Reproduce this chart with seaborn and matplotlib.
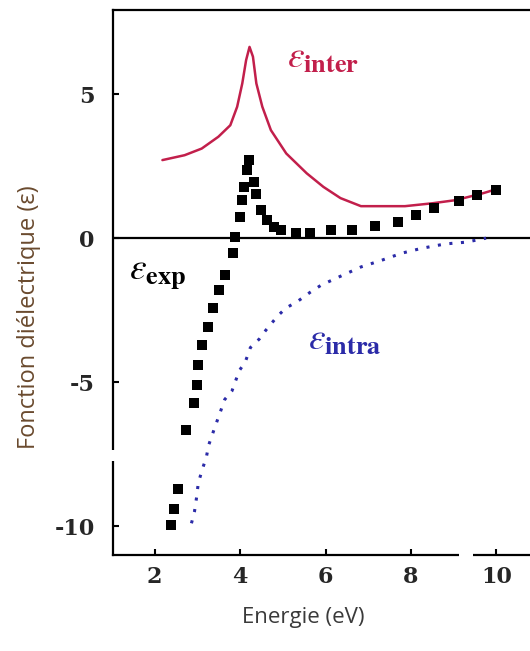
import numpy as np
import matplotlib
matplotlib.use('Agg')
import matplotlib.pyplot as plt
from matplotlib.patches import Rectangle
import pandas as pd
import seaborn as sns

# Values
inter_x = [2.18, 2.70, 3.10, 3.49, 3.77, 3.93, 4.05, 4.14, 4.22, 4.30, 4.38, 4.52, 4.72,
           5.08, 5.56, 5.95, 6.35, 6.83, 7.86, 8.50, 9.05, 9.69, 10.07]
inter_y = [2.71, 2.88, 3.11, 3.52, 3.92, 4.56, 5.37, 6.18, 6.64, 6.30, 5.37, 4.56, 3.75,
           2.94, 2.25, 1.78, 1.39, 1.11, 1.11, 1.21, 1.32, 1.56, 1.73]

exp_x = [2.38, 2.45, 2.55, 2.74, 2.93, 2.98, 3.02, 3.1, 3.24, 3.36, 3.5, 3.64, 3.83,
         3.88, 4.0, 4.05, 4.1, 4.17, 4.21, 4.33, 4.36, 4.48, 4.64, 4.8, 4.95, 5.3,
         5.64, 6.12, 6.62, 7.17, 7.69, 8.12, 8.55, 9.12, 9.55, 10.0]
exp_y = [-9.97, -9.4, -8.7, -6.67, -5.73, -5.1, -4.4, -3.7, -3.1, -2.43, -1.8, -1.28,
         -0.52, 0.03, 0.73, 1.32, 1.77, 2.36, 2.7, 1.95, 1.55, 0.97, 0.62, 0.38, 0.28,
         0.17, 0.17, 0.28, 0.28, 0.42, 0.56, 0.8, 1.04, 1.28, 1.49, 1.68]

intra_x = [2.86, 2.93, 2.98, 3.02, 3.12, 3.21, 3.26, 3.4, 3.52, 3.64, 3.81, 3.98, 4.12,
           4.24, 4.45, 4.6, 4.88, 5.07, 5.36, 5.64, 5.9, 6.31, 6.83, 7.31, 7.79, 8.26,
           8.81, 9.29, 9.76]
intra_y = [-9.9, -9.5, -9.0, -8.5, -8.0, -7.6, -7.2, -6.6, -6.1, -5.6, -5.3, -4.6, -4.3,
           -3.8, -3.5, -3.2, -2.7, -2.43, -2.18, -1.88, -1.63, -1.35, -1.0, -0.77, -0.52,
           -0.35, -0.2, -0.14, 0.0]

x_ticks = [2, 4, 6, 8, 10]
y_ticks = [5, 0, -5, -10]

red = '#c21f4b'
blue = '#2b2ba8'

sns.set_style('ticks')
plt.rcParams['mathtext.fontset'] = 'stix'

fig = plt.figure(figsize=(5.30, 6.51), dpi=100)
ax = fig.add_axes([0.213, 0.1475, 0.80, 0.8371])

df_inter = pd.DataFrame({'x': inter_x, 'y': inter_y})
df_exp = pd.DataFrame({'x': exp_x, 'y': exp_y})
df_intra = pd.DataFrame({'x': intra_x, 'y': intra_y})

ax.axhline(0, color='black', lw=1.6, zorder=1)
sns.lineplot(data=df_inter, x='x', y='y', sort=False, estimator=None, color=red, lw=1.8, ax=ax, zorder=3)
sns.lineplot(data=df_intra, x='x', y='y', sort=False, estimator=None, color=blue, lw=2.2,
             linestyle=(0, (1, 2.8)), ax=ax, zorder=3)
sns.scatterplot(data=df_exp, x='x', y='y', marker='s', s=50, color='black', linewidth=0, ax=ax, zorder=4)

ax.set_xlim(1.02, 10.95)
ax.set_ylim(-11.0, 7.92)
ax.set_xticks(x_ticks)
ax.set_yticks(y_ticks)
ax.set_xticklabels([str(t) for t in x_ticks], fontfamily='DejaVu Serif', fontweight='bold', fontsize=16)
ax.set_yticklabels([str(t) for t in y_ticks], fontfamily='DejaVu Serif', fontweight='bold', fontsize=16)
ax.tick_params(direction='in', length=4, width=1.5, color='black')
ax.tick_params(axis='x', pad=8)
ax.tick_params(axis='y', pad=13)

for side in ['left', 'bottom', 'top']:
    ax.spines[side].set_linewidth(1.6)
    ax.spines[side].set_color('black')
ax.spines['right'].set_visible(False)

ax.set_xlabel('Energie (eV)', fontfamily='Open Sans', fontsize=16, color='#3a3a3a')
ax.set_ylabel('Fonction diélectrique (ε)', fontfamily='Open Sans', fontsize=17, color='#6a4a2e')
ax.xaxis.set_label_coords(0.45, -0.095)
ax.yaxis.set_label_coords(-0.17, 0.437)

# curve labels
ax.text(5.1, 6.3, r'$\varepsilon_{\mathbf{inter}}$', color=red, fontsize=27, va='center', ha='left')
ax.text(1.4, -1.2, r'$\varepsilon_{\mathbf{exp}}$', color='black', fontsize=27, va='center', ha='left')
ax.text(5.58, -3.5, r'$\varepsilon_{\mathbf{intra}}$', color=blue, fontsize=27, va='center', ha='left')

# axis breaks
ax.add_patch(Rectangle((-0.03, -7.75), 0.06, 0.4, transform=ax.get_yaxis_transform(),
                       facecolor='white', edgecolor='none', clip_on=False, zorder=6))
ax.add_patch(Rectangle((9.12, -0.02), 0.33, 0.04, transform=ax.get_xaxis_transform(),
                       facecolor='white', edgecolor='none', clip_on=False, zorder=6))

fig.savefig('out.png', dpi=100)
